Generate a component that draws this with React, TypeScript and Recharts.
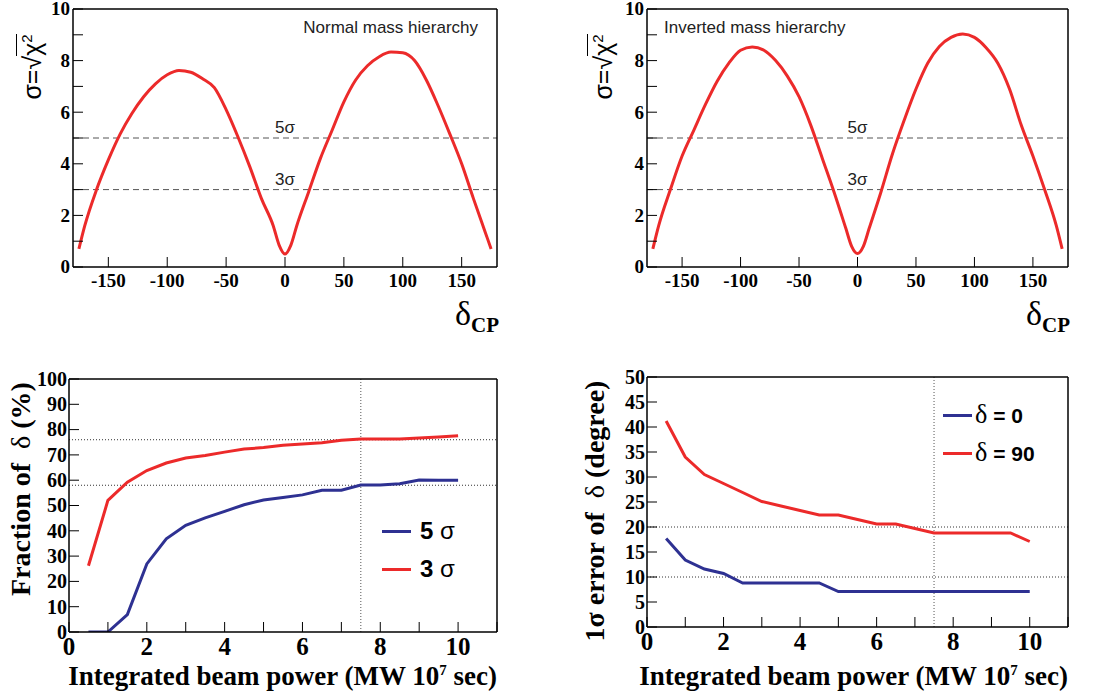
import React from "react";
import { LineChart, Line, XAxis, YAxis, ReferenceLine, Legend } from "recharts";

// delta_CP scan (degrees) and sqrt(chi2) for each hierarchy
const deltaCP = [-175, -170, -160, -150, -140, -130, -120, -110, -100, -90, -80, -70, -60, -50, -40, -30, -20, -10, -5, 0, 5, 10, 20, 30, 40, 50, 60, 70, 80, 90, 100, 110, 120, 130, 140, 150, 160, 170, 175];
const normalSigma = [0.7, 1.6, 3.0, 4.15, 5.15, 5.95, 6.6, 7.1, 7.45, 7.62, 7.55, 7.3, 6.95, 6.1, 5.05, 3.9, 2.65, 1.6, 0.85, 0.5, 0.85, 1.6, 2.9, 4.2, 5.3, 6.4, 7.25, 7.8, 8.15, 8.33, 8.3, 8.0, 7.25, 6.25, 5.15, 4.0, 2.65, 1.35, 0.7];
const invertedSigma = [0.7, 1.6, 3.0, 4.3, 5.3, 6.3, 7.2, 7.9, 8.4, 8.53, 8.4, 8.0, 7.4, 6.6, 5.5, 4.2, 2.9, 1.5, 0.8, 0.52, 0.8, 1.5, 2.9, 4.4, 5.7, 6.9, 7.9, 8.55, 8.9, 9.03, 8.9, 8.5, 7.9, 6.9, 5.5, 4.3, 3.0, 1.6, 0.7];

// integrated beam power (MW 10^7 sec)
const beamPower = [0.5, 1, 1.5, 2, 2.5, 3, 3.5, 4, 4.5, 5, 5.5, 6, 6.5, 7, 7.5, 8, 8.5, 9, 9.5, 10];
const frac5Sigma = [0, 0, 6.9, 26.9, 36.8, 42.2, 45.1, 47.7, 50.3, 52.2, 53.2, 54.2, 56, 56, 58.1, 58.1, 58.6, 60.1, 60, 60];
const frac3Sigma = [26.2, 52, 59.2, 63.8, 66.8, 68.8, 69.8, 71.1, 72.3, 72.9, 73.8, 74.3, 74.8, 75.8, 76.3, 76.3, 76.3, 76.7, 77.1, 77.6];
const err0 = [17.7, 13.4, 11.6, 10.7, 8.8, 8.8, 8.8, 8.8, 8.8, 7.1, 7.1, 7.1, 7.1, 7.1, 7.1, 7.1, 7.1, 7.1, 7.1, 7.1];
const err90 = [41.2, 34.0, 30.5, 28.7, 26.9, 25.1, 24.2, 23.3, 22.4, 22.4, 21.5, 20.6, 20.6, 19.7, 18.8, 18.8, 18.8, 18.8, 18.8, 17.1];

const deltaTicks = [-150, -100, -50, 0, 50, 100, 150];
const sigmaTicks = [0, 1, 2, 3, 4, 5, 6, 7, 8, 9, 10];
const powerTicks = [0, 1, 2, 3, 4, 5, 6, 7, 8, 9, 10, 11];
const fracTicks = [0, 10, 20, 30, 40, 50, 60, 70, 80, 90, 100];
const errTicks = [0, 5, 10, 15, 20, 25, 30, 35, 40, 45, 50];

const RED = "#ec2a2a";
const BLUE = "#2e3192";
const SERIF = '"Liberation Serif", "Times New Roman", serif';
const SANS = '"Liberation Sans", Arial, Helvetica, sans-serif';

const steps = (a: number, b: number, s: number) => {
  const out: number[] = [];
  for (let v = a; v <= b + 1e-9; v += s) out.push(+v.toFixed(4));
  return out;
};

const normalRows = deltaCP.map((x, i) => ({ x, y: normalSigma[i] }));
const invertedRows = deltaCP.map((x, i) => ({ x, y: invertedSigma[i] }));
const fracRows = beamPower.map((x, i) => ({ x, s5: frac5Sigma[i], s3: frac3Sigma[i] }));
const errRows = beamPower.map((x, i) => ({ x, d0: err0[i], d90: err90[i] }));

const evenOnly = (v: number) => (v % 2 === 0 ? String(v) : "");
const plain = (v: number) => String(v);

const bottomTick = (size: number, fmt: (v: number) => string) => (p: any) => (
  <text x={p.x} y={p.y} dy="0.71em" textAnchor="middle" fontFamily={SERIF} fontWeight={700} fontSize={size} fill="#000">
    {fmt(p.payload.value)}
  </text>
);
const leftTick = (size: number, fmt: (v: number) => string) => (p: any) => (
  <text x={p.x} y={p.y} dy="0.34em" textAnchor="end" fontFamily={SERIF} fontWeight={700} fontSize={size} fill="#000">
    {fmt(p.payload.value)}
  </text>
);

interface FrameCfg {
  xDomain: [number, number];
  yDomain: [number, number];
  xMajor: number[];
  xMinor: number[];
  yMajor: number[];
  yMinor: number[];
  xFmt: (v: number) => string;
  yFmt: (v: number) => string;
  xFont: number;
  yFont: number;
  xMargin: number;
  yMargin: number;
}

// ROOT-like frame: inward ticks on all four sides.
// Axes are 1px thick (recharts skips 0-sized axes), majors first so they sit on the plot edge.
function frameAxes(c: FrameCfg) {
  const axisLine = { stroke: "#000", strokeWidth: 1.5 };
  const tickLine = { stroke: "#000", strokeWidth: 1 };
  const xs = { type: "number" as const, domain: c.xDomain, allowDataOverflow: true, height: 1, interval: 0 as const };
  const ys = { type: "number" as const, domain: c.yDomain, allowDataOverflow: true, width: 1, interval: 0 as const };
  return [
    <XAxis key="xb" xAxisId={0} dataKey="x" {...xs} ticks={c.xMajor} tickSize={-10} tickMargin={c.xMargin}
      axisLine={axisLine} tickLine={tickLine} tick={bottomTick(c.xFont, c.xFmt)} />,
    <XAxis key="xt" xAxisId="xt" orientation="top" {...xs} ticks={c.xMajor} tickSize={-10} tick={false} axisLine={axisLine} tickLine={tickLine} />,
    <YAxis key="yl" yAxisId={0} {...ys} ticks={c.yMajor} tickSize={-10} tickMargin={c.yMargin}
      axisLine={axisLine} tickLine={tickLine} tick={leftTick(c.yFont, c.yFmt)} />,
    <YAxis key="yr" yAxisId="yr" orientation="right" {...ys} ticks={c.yMajor} tickSize={-10} tick={false} axisLine={axisLine} tickLine={tickLine} />,
    <XAxis key="xbm" xAxisId="xbm" {...xs} ticks={c.xMinor} tickSize={-6} tick={false} axisLine={false} tickLine={tickLine} />,
    <XAxis key="xtm" xAxisId="xtm" orientation="top" {...xs} ticks={c.xMinor} tickSize={-6} tick={false} axisLine={false} tickLine={tickLine} />,
    <YAxis key="ylm" yAxisId="ylm" {...ys} ticks={c.yMinor} tickSize={-6} tick={false} axisLine={false} tickLine={tickLine} />,
    <YAxis key="yrm" yAxisId="yrm" orientation="right" {...ys} ticks={c.yMinor} tickSize={-6} tick={false} axisLine={false} tickLine={tickLine} />,
  ];
}

const sigmaFrame: FrameCfg = {
  xDomain: [-180, 180], yDomain: [0, 10],
  xMajor: deltaTicks, xMinor: steps(-180, 180, 10),
  yMajor: sigmaTicks, yMinor: steps(0, 10, 0.25),
  xFmt: plain, yFmt: evenOnly, xFont: 19, yFont: 19, xMargin: 17, yMargin: 13,
};

const SigmaPanel: React.FC<{ data: { x: number; y: number }[] }> = ({ data }) => (
  <>
    {frameAxes(sigmaFrame)}
    <ReferenceLine y={5} stroke="#555" strokeDasharray="6 4" strokeWidth={1}
      label={{ value: "5σ", position: "top", offset: 5, fontFamily: SANS, fontSize: 17, fill: "#222" }} />
    <ReferenceLine y={3} stroke="#555" strokeDasharray="6 4" strokeWidth={1}
      label={{ value: "3σ", position: "top", offset: 5, fontFamily: SANS, fontSize: 17, fill: "#222" }} />
    <Line data={data} dataKey="y" type="monotone" stroke={RED} strokeWidth={3} dot={false} isAnimationActive={false} />
  </>
);

const legendOrder = ["5 σ", "3 σ", "δ = 0", "δ = 90"];

const makeLegend = (fontSize: number, rowH: number, gap: number) => (props: any) => {
  const items = [...(props.payload || [])].sort(
    (a: any, b: any) => legendOrder.indexOf(a.value) - legendOrder.indexOf(b.value)
  );
  return (
    <div>
      {items.map((p: any) => {
        const label: string = p.value;
        return (
          <div key={label} style={{ display: "flex", alignItems: "center", height: rowH }}>
            <div style={{ width: 29, height: 3, background: p.color, marginRight: gap }} />
            <span style={{ fontFamily: SANS, fontWeight: 700, fontSize, color: "#000", whiteSpace: "nowrap" }}>
              {label.startsWith("δ") ? (
                <>
                  <span style={{ fontFamily: SERIF, fontWeight: 400, fontSize: fontSize * 1.25 }}>δ</span>
                  {label.slice(1)}
                </>
              ) : (
                <>
                  {label.slice(0, 2)}
                  <span style={{ fontWeight: 400 }}>{label.slice(2)}</span>
                </>
              )}
            </span>
          </div>
        );
      })}
    </div>
  );
};

const Abs: React.FC<{ style: React.CSSProperties; children: React.ReactNode }> = ({ style, children }) => (
  <div style={{ position: "absolute", whiteSpace: "nowrap", lineHeight: 1, ...style }}>{children}</div>
);

// rotated y title centred on (cx, cy)
const VTitle: React.FC<{ cx: number; cy: number; w: number; h: number; children: React.ReactNode }> = ({ cx, cy, w, h, children }) => (
  <div style={{
    position: "absolute", left: cx - w / 2, top: cy - h / 2, width: w, height: h,
    transform: "rotate(-90deg)", display: "flex", alignItems: "center", justifyContent: "center",
    whiteSpace: "nowrap", lineHeight: 1,
  }}>{children}</div>
);

const SigmaTitle = () => (
  <span style={{ fontFamily: SANS, fontSize: 25, color: "#000" }}>
    σ=√<span style={{ borderTop: "1.5px solid #000", paddingTop: 1 }}>χ<span style={{ fontSize: 15, verticalAlign: "9px" }}>2</span></span>
  </span>
);

const DeltaCP = () => (
  <span style={{ fontFamily: SERIF, color: "#000" }}>
    <span style={{ fontSize: 34 }}>δ</span>
    <span style={{ fontSize: 21, fontWeight: 700, position: "relative", top: 7 }}>CP</span>
  </span>
);

const BeamTitle = () => (
  <span style={{ fontFamily: SERIF, fontWeight: 700, fontSize: 27, color: "#000" }}>
    Integrated beam power (MW 10<span style={{ fontSize: 15, verticalAlign: "10px" }}>7</span> sec)
  </span>
);

export default function App() {
  return (
    <div style={{ position: "absolute", left: 0, top: 0, width: 1113, height: 698, background: "#fff" }}>
      <div style={{ position: "absolute", left: 0, top: 0 }}>
        <LineChart width={560} height={340} margin={{ top: 7, left: 71, right: 61, bottom: 71 }}>
          {SigmaPanel({ data: normalRows })}
        </LineChart>
      </div>
      <div style={{ position: "absolute", left: 550, top: 0 }}>
        <LineChart width={563} height={340} margin={{ top: 7, left: 95, right: 43, bottom: 71 }}>
          {SigmaPanel({ data: invertedRows })}
        </LineChart>
      </div>

      <div style={{ position: "absolute", left: 0, top: 340 }}>
        <LineChart width={560} height={358} data={fracRows} margin={{ top: 37, left: 67, right: 61, bottom: 64 }}>
          {frameAxes({
            xDomain: [0, 11], yDomain: [0, 100],
            xMajor: powerTicks, xMinor: steps(0, 11, 0.5),
            yMajor: fracTicks, yMinor: steps(0, 100, 2),
            xFmt: evenOnly, yFmt: plain, xFont: 25, yFont: 20, xMargin: 15, yMargin: 12,
          })}
          <ReferenceLine y={76} stroke="#333" strokeDasharray="1 2" />
          <ReferenceLine y={58} stroke="#333" strokeDasharray="1 2" />
          <ReferenceLine x={7.5} stroke="#555" strokeDasharray="1 2" />
          <Line dataKey="s5" name="5 σ" type="linear" stroke={BLUE} strokeWidth={3} dot={false} isAnimationActive={false} />
          <Line dataKey="s3" name="3 σ" type="linear" stroke={RED} strokeWidth={3} dot={false} isAnimationActive={false} />
          <Legend layout="vertical" align="center" verticalAlign="middle"
            wrapperStyle={{ left: 382, top: 172, width: 130 }} content={makeLegend(24, 38, 9)} />
        </LineChart>
      </div>

      <div style={{ position: "absolute", left: 550, top: 340 }}>
        <LineChart width={563} height={358} data={errRows} margin={{ top: 35, left: 95, right: 43, bottom: 69 }}>
          {frameAxes({
            xDomain: [0, 11], yDomain: [0, 50],
            xMajor: powerTicks, xMinor: steps(0, 11, 0.5),
            yMajor: errTicks, yMinor: steps(0, 50, 1),
            xFmt: evenOnly, yFmt: plain, xFont: 25, yFont: 20, xMargin: 15, yMargin: 12,
          })}
          <ReferenceLine y={20} stroke="#333" strokeDasharray="1 2" />
          <ReferenceLine y={10} stroke="#333" strokeDasharray="1 2" />
          <ReferenceLine x={7.5} stroke="#555" strokeDasharray="1 2" />
          <Line dataKey="d0" name="δ = 0" type="linear" stroke={BLUE} strokeWidth={3} dot={false} isAnimationActive={false} />
          <Line dataKey="d90" name="δ = 90" type="linear" stroke={RED} strokeWidth={3} dot={false} isAnimationActive={false} />
          <Legend layout="vertical" align="center" verticalAlign="middle"
            wrapperStyle={{ left: 393, top: 56, width: 150 }} content={makeLegend(21, 38, 3)} />
        </LineChart>
      </div>

      {/* axis titles and annotations */}
      <VTitle cx={32} cy={67} w={110} h={40}><SigmaTitle /></VTitle>
      <VTitle cx={603} cy={67} w={110} h={40}><SigmaTitle /></VTitle>
      <Abs style={{ right: 1113 - 499, top: 297 }}><DeltaCP /></Abs>
      <Abs style={{ right: 1113 - 1070, top: 297 }}><DeltaCP /></Abs>
      <Abs style={{ right: 1113 - 478, top: 19, fontFamily: SANS, fontSize: 17, color: "#222" }}>Normal mass hierarchy</Abs>
      <Abs style={{ left: 664, top: 19, fontFamily: SANS, fontSize: 17, color: "#222" }}>Inverted mass hierarchy</Abs>

      <VTitle cx={21} cy={489} w={280} h={36}>
        <span style={{ fontFamily: SERIF, fontWeight: 700, fontSize: 28, color: "#000" }}>
          Fraction of <span style={{ fontWeight: 400, marginLeft: 7 }}>δ</span> (%)
        </span>
      </VTitle>
      <VTitle cx={595} cy={511} w={320} h={36}>
        <span style={{ fontFamily: SERIF, fontWeight: 700, fontSize: 28, color: "#000" }}>
          1σ error of <span style={{ fontWeight: 400, marginLeft: 7 }}>δ</span> (degree)
        </span>
      </VTitle>
      <Abs style={{ right: 1113 - 497, top: 663 }}><BeamTitle /></Abs>
      <Abs style={{ right: 1113 - 1068, top: 663 }}><BeamTitle /></Abs>
    </div>
  );
}
